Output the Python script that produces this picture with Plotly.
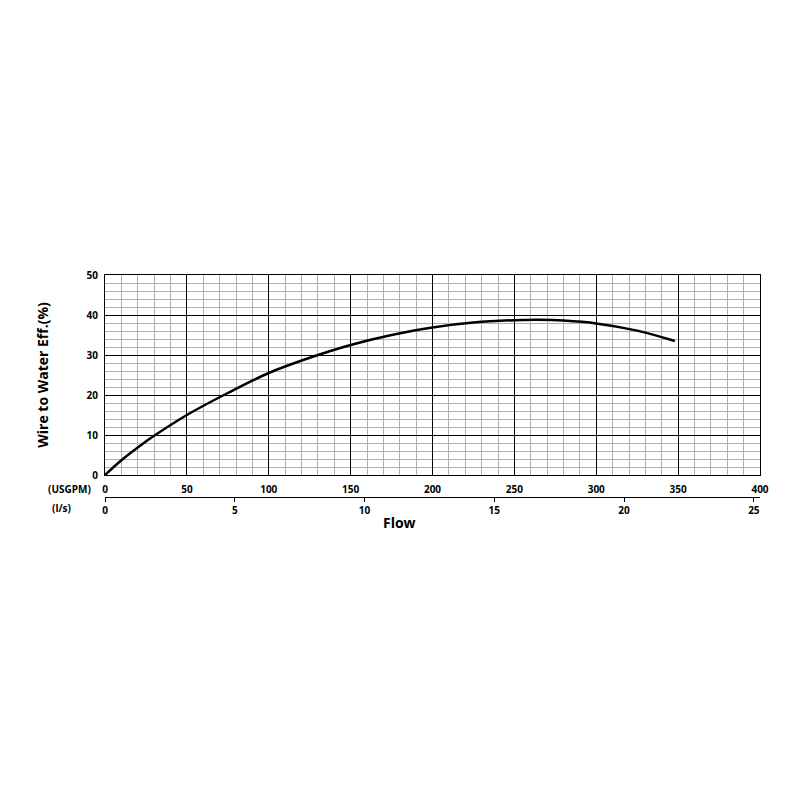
import plotly.graph_objects as go

## flow in USGPM and wire-to-water efficiency (%)
flow_usgpm = [0, 10, 20, 30, 50, 75, 100, 125, 150, 175, 200, 225, 250, 265, 280, 300, 325, 348]
eff_pct = [0, 3.7, 6.9, 9.8, 15, 20.5, 25.5, 29.3, 32.5, 35, 36.9, 38.1, 38.7, 38.8, 38.6, 37.9, 36.1, 33.5]

usgpm_ticks = [0, 50, 100, 150, 200, 250, 300, 350, 400]
ls_ticks = [0, 5, 10, 15, 20, 25]
eff_ticks = [0, 10, 20, 30, 40, 50]
GPM_PER_LS = 15.85

fnt = "Open Sans"

fig = go.Figure()
fig.add_trace(go.Scatter(x=flow_usgpm, y=eff_pct, mode="lines",
                         line=dict(color="black", width=2.5, shape="spline"),
                         showlegend=False))
# dummy trace so the l/s axis gets drawn
fig.add_trace(go.Scatter(x=[0], y=[None], xaxis="x2", showlegend=False,
                         hoverinfo="skip"))

## page body has an 8px margin, so margins are shifted back by 8
fig.update_layout(
    width=800, height=800,
    plot_bgcolor="white", paper_bgcolor="white",
    margin=dict(l=97, r=48, t=267, b=311),
    font=dict(family=fnt, color="black"),
    xaxis=dict(range=[0, 400], tickvals=usgpm_ticks, showline=True, mirror=True,
               linecolor="black", linewidth=1.2, showgrid=True, gridcolor="black",
               gridwidth=1, zeroline=False, ticks="", automargin=False,
               ticklabelstandoff=5,
               tickfont=dict(size=10, weight="bold"),
               minor=dict(dtick=10, showgrid=True, gridcolor="#b0b0b0", gridwidth=1),
               domain=[0, 1]),
    xaxis2=dict(range=[0, 400 / GPM_PER_LS], tickvals=ls_ticks, overlaying="x",
                anchor="free", position=0, side="bottom", showline=True,
                linecolor="black", linewidth=1.2, showgrid=False, zeroline=False,
                ticks="outside", ticklen=4, tickcolor="black", automargin=False,
                tickfont=dict(size=10, weight="bold"), domain=[0, 1]),
    yaxis=dict(range=[0, 50], tickvals=eff_ticks, showline=True, mirror=True,
               linecolor="black", linewidth=1.2, showgrid=True, gridcolor="black",
               gridwidth=1, zeroline=False, ticks="", automargin=False,
               ticklabelstandoff=4,
               tickfont=dict(size=10, weight="bold"),
               minor=dict(dtick=2, showgrid=True, gridcolor="#b0b0b0", gridwidth=1),
               domain=[22 / 222, 1],
               title=dict(text="Wire to Water Eff.(%)", standoff=34,
                          font=dict(size=14, weight="bold"))),
)

## unit labels left of the two flow scales, and the Flow title
fig.add_annotation(text="(USGPM)", xref="paper", yref="paper", x=-0.018, y=22 / 222,
                   yshift=-14, xanchor="right", yanchor="middle", showarrow=False,
                   font=dict(size=10, weight="bold"))
fig.add_annotation(text="(l/s)", xref="paper", yref="paper", x=-0.049, y=0,
                   yshift=-11, xanchor="right", yanchor="middle", showarrow=False,
                   font=dict(size=10, weight="bold"))
fig.add_annotation(text="Flow", xref="paper", yref="paper", x=0.45, y=0,
                   yshift=-25, yanchor="middle", showarrow=False,
                   font=dict(size=14, weight="bold"))

fig.write_html("out.html")
